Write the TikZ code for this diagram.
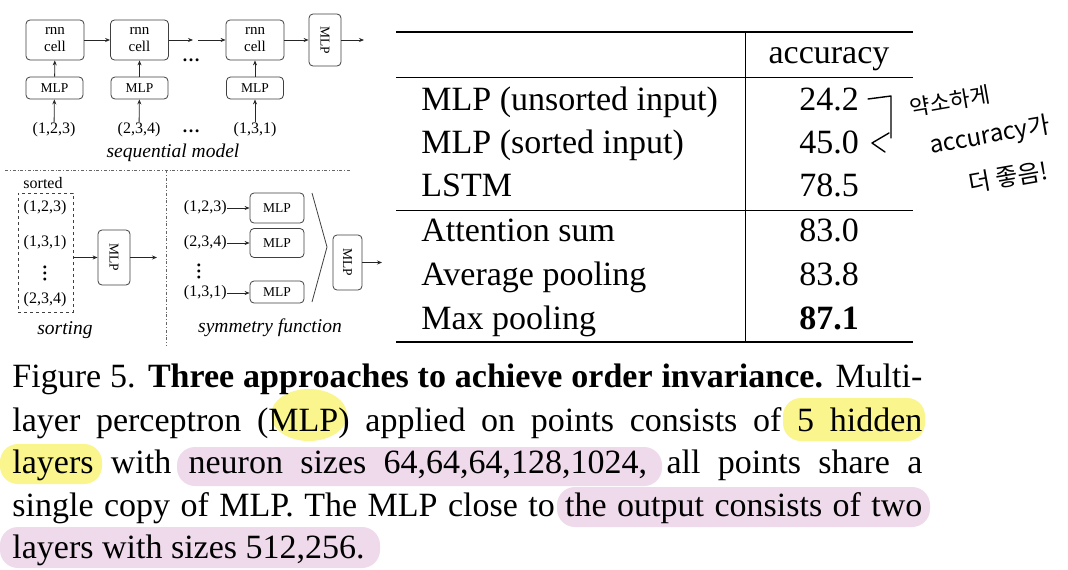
\documentclass[tikz,border=0pt]{standalone}
\usepackage{fontspec}
\setmainfont{Liberation Serif}
\newfontfamily\kofont{Noto Sans CJK KR}
\usetikzlibrary{arrows.meta}
\definecolor{hlyellow}{HTML}{FAF58C}
\definecolor{hlpink}{HTML}{EFDAEC}
\newcommand\diag{\fontsize{15}{17}\selectfont}
\newcommand\mlpfont{\fontsize{13.5}{15}\selectfont}
\newcommand\tupfont{\fontsize{16}{18}\selectfont}
\newcommand\tabfont{\fontsize{34}{40}\selectfont}
\newcommand\capfont{\fontsize{34}{43}\selectfont}
\newcommand\bdots{{\fontsize{18}{18}\selectfont\bfseries\ldots}}

\begin{document}
\begin{tikzpicture}[x=1pt, y=-1pt, line width=0.8pt,
    box/.style={draw=black!75, rounded corners=4pt, inner sep=0pt, font=\mlpfont, align=center},
    vbox/.style={box, rotate=-90, minimum height=32pt},
    arr/.style={-{Stealth[length=5pt,width=4pt]}, black!85},
    lbl/.style={font=\tupfont, inner sep=0pt},
    dotsv/.style={inner sep=0pt, rotate=90},
    sub/.style={font=\fontsize{19.5}{21}\selectfont\itshape, inner sep=0pt},
    row/.style={font=\tabfont, anchor=base west, inner sep=0pt},
    num/.style={font=\tabfont, anchor=base, inner sep=0pt},
    capline/.style={font=\capfont, anchor=base west, inner sep=0pt},
    hand/.style={font=\kofont\fontsize{22}{24}\selectfont, rotate=10, inner sep=0pt}]
  \useasboundingbox[fill=white] (0,0) rectangle (1068,570);

  % sequential model
  \node[box, font=\diag, minimum width=58pt, minimum height=40pt] (rnn1) at (55,40) {rnn\\cell};
  \node[box, font=\diag, minimum width=58pt, minimum height=40pt] (rnn2) at (139.5,40) {rnn\\cell};
  \node[box, font=\diag, minimum width=58pt, minimum height=40pt] (rnn3) at (255,40) {rnn\\cell};
  \node[vbox, minimum width=52pt] (mlpS) at (325,40) {MLP};
  \node[box, minimum width=57pt, minimum height=22pt] (m1) at (54.5,88) {MLP};
  \node[box, minimum width=57pt, minimum height=22pt] (m2) at (139.5,88) {MLP};
  \node[box, minimum width=57pt, minimum height=22pt] (m3) at (255,88) {MLP};
  \node[lbl] (in1) at (54,130) {(1,2,3)};
  \node[lbl] (in2) at (139,130) {(2,3,4)};
  \node[lbl] (in3) at (255,130) {(1,3,1)};
  \node[inner sep=0pt] (dotsA) at (191,60) {\bdots};
  \node[inner sep=0pt] (dotsB) at (191,131) {\bdots};
  \node[sub] (seq) at (173,153) {sequential model};
  \coordinate (gapL) at (193,40);
  \coordinate (gapR) at (198,40);
  \coordinate (outS) at (364,40);
  \foreach \i in {1,2,3} {
    \draw[arr] (in\i) -- (m\i);
    \draw[arr] (m\i) -- (rnn\i);
  }
  \draw[arr] (rnn1.east) -- (rnn2.west);
  \draw[arr] (rnn2.east) -- (gapL);
  \draw[arr] (gapR) -- (rnn3.west);
  \draw[arr] (rnn3.east) -- (mlpS.south);
  \draw[arr] (mlpS.north) -- (outS);

  % separators
  \draw[black!60, line width=0.6pt, dash dot] (5,170) -- (350,170);
  \draw[black!60, line width=0.6pt, dash dot] (166,170) -- (166,345);

  % sorting
  \node[lbl] (srt) at (43,183) {sorted};
  \node[draw=black!75, dashed, minimum width=55pt, minimum height=119pt, inner sep=0pt] (sortbox) at (45.5,252.5) {};
  \node[lbl] (s1) at (45,208) {(1,2,3)};
  \node[lbl] (s2) at (45,243) {(1,3,1)};
  \node[dotsv] (s3) at (45,273) {\bdots};
  \node[lbl] (s4) at (45,300) {(2,3,4)};
  \node[vbox, minimum width=55pt] (mlpT) at (114,257.5) {MLP};
  \coordinate (outT) at (157,257.5);
  \draw[arr] (sortbox.east |- mlpT.south) -- (mlpT.south);
  \draw[arr] (mlpT.north) -- (outT);
  \node[sub] (sorting) at (65,330) {sorting};

  % symmetry function
  \node[lbl, anchor=east] (t1) at (227,208) {(1,2,3)};
  \node[lbl, anchor=east] (t2) at (227,243) {(2,3,4)};
  \node[dotsv] (t3) at (199,271) {\bdots};
  \node[lbl, anchor=east] (t4) at (227,293) {(1,3,1)};
  \node[box, minimum width=54pt, minimum height=30pt] (p1) at (277,208) {MLP};
  \node[box, minimum width=54pt, minimum height=29pt] (p2) at (277,243) {MLP};
  \node[box, minimum width=54pt, minimum height=22pt] (p4) at (277,292) {MLP};
  \foreach \i in {1,2,4} \draw[arr] (t\i.east) -- (t\i.east -| p\i.west);
  \draw[black!75] (312,193) -- (327,247) -- (312,302);
  \node[vbox, minimum width=55pt, minimum height=29pt] (mlpU) at (347.5,262.5) {MLP};
  \coordinate (outU) at (382,262.5);
  \draw[arr] (mlpU.north) -- (outU);
  \node[sub] (sym) at (270,328) {symmetry function};

  % table
  \draw[line width=1.1pt] (396,32) -- (913,32);
  \draw[line width=0.9pt] (396,77) -- (913,77);
  \draw[line width=0.9pt] (396,210) -- (913,210);
  \draw[line width=1.1pt] (396,342) -- (913,342);
  \draw[line width=0.9pt] (745,32) -- (745,342);
  \node[num] (head) at (829,63) {accuracy};
  \node[row] (r1) at (421,110) {MLP (unsorted input)};
  \node[row] (r2) at (421,153) {MLP (sorted input)};
  \node[row] (r3) at (421,196) {LSTM};
  \node[row] (r4) at (421,241) {Attention sum};
  \node[row] (r5) at (421,285) {Average pooling};
  \node[row] (r6) at (421,329) {Max pooling};
  \node[num] (v1) at (829,110) {24.2};
  \node[num] (v2) at (829,153) {45.0};
  \node[num] (v3) at (829,196) {78.5};
  \node[num] (v4) at (829,241) {83.0};
  \node[num] (v5) at (829,285) {83.8};
  \node[num] (v6) at (829,329) {\textbf{87.1}};

  % handwritten note
  \draw[line width=1.4pt, line cap=round, line join=round] (868,99) -- (891,96) -- (891,138) (889,133) -- (872,143) -- (885,152);
  \node[hand] (h1) at (950,101) {약소하게};
  \node[hand, font=\kofont\fontsize{24}{26}\selectfont] (h2) at (990,136) {accuracy가};
  \node[hand, font=\kofont\fontsize{24}{26}\selectfont] (h3) at (1008,177) {더 좋음!};

  % caption highlights
  \fill[hlyellow] (309,415) ellipse [x radius=38, y radius=26];
  \fill[hlyellow, rounded corners=18pt] (783,398) rectangle (925,441);
  \fill[hlyellow, rounded corners=18pt] (0,444) rectangle (102,484);
  \fill[hlpink, rounded corners=18pt] (177,447) rectangle (662,486);
  \fill[hlpink, rounded corners=18pt] (557,487) rectangle (930,527);
  \fill[hlpink, rounded corners=18pt] (0,527) rectangle (380,568);

  % caption
  \node[capline] (c1) at (12,387) {\makebox[910pt][s]{Figure 5. \textbf{Three approaches to achieve order invariance.} Multi-}};
  \node[capline] (c2) at (12,431) {\makebox[910pt][s]{layer perceptron (MLP) applied on points consists of 5 hidden}};
  \node[capline] (c3) at (12,473) {\makebox[910pt][s]{layers with neuron sizes 64,64,64,128,1024, all points share a}};
  \node[capline] (c4) at (12,516) {\makebox[910pt][s]{single copy of MLP. The MLP close to the output consists of two}};
  \node[capline] (c5) at (12,558) {layers with sizes 512,256.};
\end{tikzpicture}
\end{document}
